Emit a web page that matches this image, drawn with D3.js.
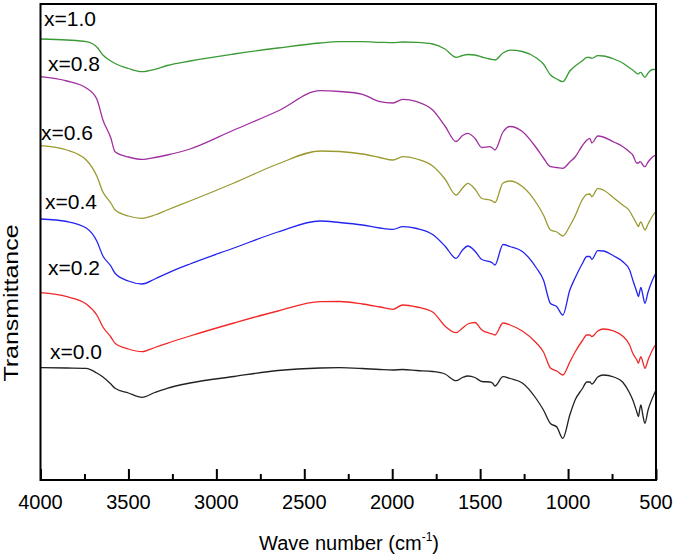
<!DOCTYPE html>
<html>
<head>
<meta charset="utf-8">
<script src="https://cdn.jsdelivr.net/npm/d3@7"></script>
<style>
  html, body { margin: 0; padding: 0; background: #fff; }
  svg { display: block; }
  text { font-family: "Liberation Sans", Arial, sans-serif; fill: #000; }
</style>
</head>
<body>
<svg id="chart" width="675" height="559"></svg>
<script>
// Wavenumbers (cm^-1)
const wavenumbers = [4000,3850,3740,3680,3645,3600,3576,3500,3423,3350,3280,3150,2900,2650,2410,2300,2170,2070,1996,1940,1860,1770,1700,1637,1600,1570,1530,1490,1445,1430,1416,1370,1330,1260,1180,1140,1100,1064,1030,990,960,920,893,876,865,831,800,740,690,650,632,609,600,592,586,575,563,545,520,500];

// Transmittance (arbitrary units, offset-stacked) per composition
const seriesNames = ["x=1.0", "x=0.8", "x=0.6", "x=0.4", "x=0.2", "x=0.0"];
const t10 = [441,440,438.3,433,425,419,416.5,411.5,408.3,410.7,414.5,419,426,432,437,438.3,438.3,437.7,437.3,438,437.7,436,431,422.7,424.5,425.5,425,423,421,420.5,420,427,429.8,428.5,422,416,405,401,398.3,409,414,419,422.7,422.5,421.7,424.3,424,421,417,412,410,406.5,406,407.5,407.7,405,402.7,407,410.5,410.7];
const t08 = [403.3,399,392,381,360,342,328.3,323,320.7,322.5,325,331,350,369,389.3,388.5,385.7,378.3,377,380.7,378.3,370,354,338.5,344.5,346.7,341.7,332.5,333.3,332,330,348,353.5,348.5,332,322,313.3,312.5,311.7,318,323,334,340,341.7,337,344,343,338,333.5,328,325,317,317,318.3,318,315,313.3,318,323,325];
const t06 = [334.3,330,320,304,288,277,270,264,261.7,265,270,279,297,316,329,328.5,326,322.5,320,323.3,321,314,301,285,292,296.7,291,281.5,280,279,277.3,297,299,293.5,277,265,250,248,244,254,264,280,285.7,286,283.3,291.7,290,282,275,269,263.3,256,253.3,257,258,254,250,256,264,269];
const t04 = [261,258.5,252,239,224,214,206.7,199,196,201,206.7,216,232,248,259,257.5,255,252,250.7,253.3,251.5,245.5,234,221.7,230,234,229,220.5,218.3,217,215,235.5,233.5,228.5,212,200,176.5,173.3,165,190,202,216,223.5,223.5,220.7,229.3,229,224,218.5,210,200,188,183.3,189,192.5,185,176.7,188,200,207.3];
const t02 = [187.3,183.3,176,165,153,143,136.7,131,128.3,132.5,136.7,144,157,169,178.3,178.5,176,173,170.7,175,173,168,154,147.3,152,156,157.5,150,146.7,146,145,157,155,149,137,128,112,109,105,118,128,139,145,145,143.3,149,151,149,144,135,126.7,120,116.7,121,123.3,118,111.7,120,130,136];
const t00 = [112.3,112,111.7,107,103,96,91.7,87,82.7,87.5,91.7,97,103.5,109.5,112,112.3,111.5,110.5,110,110.5,109.5,108.5,106,99.3,102.5,104,102.5,98.5,98,97,94,103.3,101.5,97,81,70,56.5,53,41.7,65,80,91,98,98,96,103,105,103,98,87,80,68,63.3,71,75,65,56.7,70,82,90];
const seriesValues = [t10, t08, t06, t04, t02, t00];
const seriesColors = ["#3a9a35", "#a0309f", "#9a9a30", "#2424f0", "#f02828", "#222222"];

const xTickValues = [4000, 3500, 3000, 2500, 2000, 1500, 1000, 500];
const xMinorTicks = [3750, 3250, 2750, 2250, 1750, 1250, 750];

const svg = d3.select("#chart");
const mLeft = 40.5, mRight = 656, mTop = 4, mBottom = 480;

const x = d3.scaleLinear().domain([4000, 500]).range([mLeft, mRight]);
const y = d3.scaleLinear().domain([0, 476]).range([mBottom, mTop]);

// curves
const line = d3.line()
  .x(d => x(d[0]))
  .y(d => y(d[1]))
  .curve(d3.curveMonotoneX);

seriesValues.forEach((vals, i) => {
  const pts = wavenumbers.map((w, j) => [w, vals[j]]);
  svg.append("path")
    .attr("d", line(pts))
    .attr("fill", "none")
    .attr("stroke", seriesColors[i])
    .attr("stroke-width", 1.3)
    .attr("stroke-linejoin", "round");
});

// frame
svg.append("rect")
  .attr("x", mLeft).attr("y", mTop)
  .attr("width", mRight - mLeft).attr("height", mBottom - mTop)
  .attr("fill", "none").attr("stroke", "#000").attr("stroke-width", 2);

// bottom axis (inward ticks)
const xAxis = d3.axisBottom(x).tickValues(xTickValues).tickSize(-11).tickPadding(0).tickFormat(d3.format("d"));
const gx = svg.append("g").attr("transform", `translate(0,${mBottom})`).call(xAxis);
gx.select(".domain").remove();
gx.selectAll(".tick line").attr("stroke", "#000").attr("stroke-width", 2);
gx.selectAll(".tick text").remove();

const xMinor = d3.axisBottom(x).tickValues(xMinorTicks).tickSize(-6).tickFormat("");
const gm = svg.append("g").attr("transform", `translate(0,${mBottom})`).call(xMinor);
gm.select(".domain").remove();
gm.selectAll(".tick line").attr("stroke", "#000").attr("stroke-width", 2);

// tick labels
svg.append("g").selectAll("text")
  .data(xTickValues)
  .join("text")
  .attr("x", d => x(d))
  .attr("y", 509)
  .attr("text-anchor", "middle")
  .attr("font-size", 20)
  .text(d => d);

// axis titles
const xt = svg.append("text")
  .attr("x", 349).attr("y", 550)
  .attr("text-anchor", "middle")
  .attr("font-size", 20);
xt.append("tspan").text("Wave number (cm");
xt.append("tspan").attr("font-size", 12).attr("dy", -9).text("-1");
xt.append("tspan").attr("dy", 9).text(")");

svg.append("text")
  .attr("transform", "translate(18,303) rotate(-90)")
  .attr("text-anchor", "middle")
  .attr("font-size", 21)
  .attr("textLength", 157)
  .attr("lengthAdjust", "spacingAndGlyphs")
  .text("Transmittance");

// series labels
const labelPos = [[44, 26], [48, 71], [41, 140], [45, 209], [48, 275], [50, 359]];
svg.append("g").selectAll("text")
  .data(seriesNames)
  .join("text")
  .attr("x", (d, i) => labelPos[i][0])
  .attr("y", (d, i) => labelPos[i][1])
  .attr("font-size", 21)
  .text(d => d);
</script>
</body>
</html>
